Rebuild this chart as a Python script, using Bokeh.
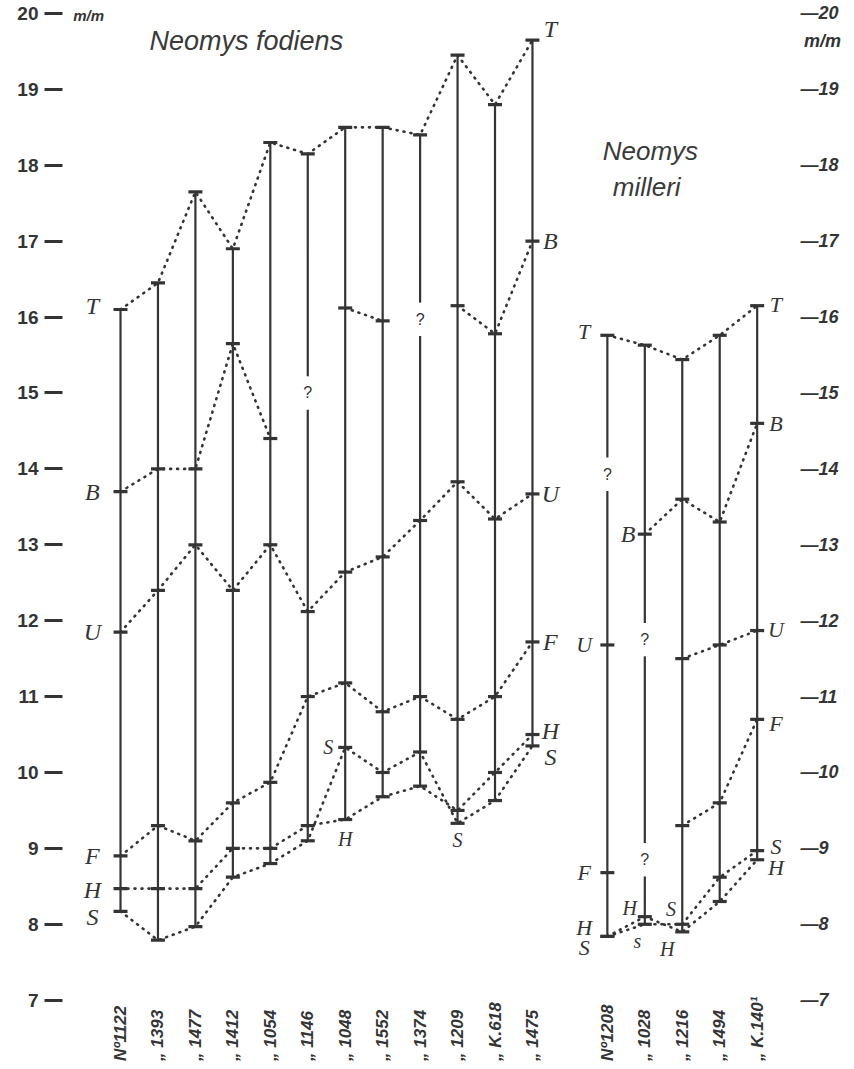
import math
from bokeh.plotting import figure
from bokeh.models import Range1d, LinearAxis, FixedTicker
from bokeh.core.properties import value
from bokeh.embed import file_html
from bokeh.resources import INLINE

nan = float("nan")

# ---------------- data (mm) ----------------
# Neomys fodiens
fod_ids = ["Nº1122", "„ 1393", "„ 1477", "„ 1412", "„ 1054", "„ 1146",
           "„ 1048", "„ 1552", "„ 1374", "„ 1209", "„ K.618", "„ 1475"]
fod_T = [16.1, 16.45, 17.65, 16.9, 18.3, 18.15, 18.5, 18.5, 18.4, 19.45, 18.8, 19.65]
fod_B = [13.7, 14.0, 14.0, 15.65, 14.4, nan, 16.12, 15.95, nan, 16.15, 15.78, 17.0]
fod_U = [11.85, 12.4, 13.0, 12.4, 13.0, 12.12, 12.64, 12.84, 13.32, 13.83, 13.34, 13.67]
fod_F = [8.9, 9.3, 9.1, 9.6, 9.87, 11.0, 11.18, 10.8, 11.0, 10.7, 11.0, 11.72]
fod_H = [8.47, 8.47, 8.47, 9.0, 9.0, 9.3, 9.38, 9.68, 9.82, 9.5, 10.0, 10.5]
fod_S = [8.17, 7.79, 7.97, 8.62, 8.8, 9.1, 10.33, 10.0, 10.27, 9.33, 9.63, 10.35]
fod_q_col = [5, 8]          # columns with an unknown ("?") value
fod_q_val = [15.0, 15.97]

# Neomys milleri
mil_ids = ["Nº1208", "„ 1028", "„ 1216", "„ 1494", "„ K.140¹"]
mil_T = [15.76, 15.63, 15.44, 15.76, 16.15]
mil_B = [nan, 13.14, 13.6, 13.3, 14.6]
mil_U = [11.68, nan, 11.5, 11.68, 11.87]
mil_F = [8.68, nan, 9.3, 9.6, 10.7]
mil_H = [7.84, 8.1, 7.9, 8.3, 8.85]
mil_S = [7.84, 8.0, 8.0, 8.62, 8.97]
mil_q_col = [0, 1, 1]
mil_q_val = [13.93, 11.75, 8.85]

y_ticks = list(range(7, 21))
unit_label = "m/m"

# ---------------- layout ----------------
INK = "#343434"
W, H = 846, 1061
fod_x = list(range(len(fod_ids)))
mil_x = [13 + i for i in range(len(mil_ids))]

p = figure(width=W, height=H, output_backend="svg", toolbar_location=None,
           x_range=Range1d(-1.549, 18.077), y_range=Range1d(6.192, 20.171),
           x_axis_location=None, y_axis_location="left",
           min_border_left=62, min_border_right=49, min_border_top=0, min_border_bottom=0)
p.grid.visible = False
p.outline_line_color = None
p.background_fill_color = "white"
p.border_fill_color = "white"

# left axis: real ticks
lax = p.yaxis[0]
lax.ticker = FixedTicker(ticks=y_ticks)
lax.axis_line_color = None
lax.minor_tick_line_color = None
lax.major_tick_in = 0
lax.major_tick_out = 18
lax.major_tick_line_width = 3
lax.major_tick_line_color = INK
lax.major_label_text_font = "Liberation Sans"
lax.major_label_text_font_style = "bold"
lax.major_label_text_font_size = "19px"
lax.major_label_text_color = INK
lax.major_label_standoff = 6

# right axis: dash drawn in the label, plus the unit under "20"
unit_pos = y_ticks[-1] - 0.36
rax = LinearAxis()
rax.ticker = FixedTicker(ticks=y_ticks + [unit_pos])
overrides = {t: "\u2014" + str(t) for t in y_ticks}
overrides[unit_pos] = "\u2009" + unit_label
rax.major_label_overrides = overrides
rax.axis_line_color = None
rax.minor_tick_line_color = None
rax.major_tick_line_color = None
rax.major_tick_in = 0
rax.major_tick_out = 0
rax.major_label_standoff = 3
rax.major_label_text_font = "Liberation Sans"
rax.major_label_text_font_style = "bold italic"
rax.major_label_text_font_size = "18px"
rax.major_label_text_color = INK
p.add_layout(rax, "right")


def draw_group(xs, T, B, U, F, Hh, S, qcol, qval):
    # vertical bars with gaps at unknown values
    x0, y0, x1, y1 = [], [], [], []
    for i, x in enumerate(xs):
        top = T[i]
        bottom = min(v for v in (S[i], Hh[i]) if not math.isnan(v))
        qs = sorted([qval[k] for k in range(len(qcol)) if qcol[k] == i], reverse=True)
        hi = top
        for q in qs:
            x0.append(x); x1.append(x); y0.append(hi); y1.append(q + 0.22)
            hi = q - 0.22
        x0.append(x); x1.append(x); y0.append(hi); y1.append(bottom)
    p.segment(x0=x0, y0=y0, x1=x1, y1=y1, line_color=INK, line_width=2.2)
    # dotted connecting lines and tick marks
    for series in (T, B, U, F, Hh, S):
        p.line(xs, series, line_color=INK, line_width=2.6, line_dash="1 6", line_cap="round")
        xv = [x for x, v in zip(xs, series) if not math.isnan(v)]
        yv = [v for v in series if not math.isnan(v)]
        p.scatter(xv, yv, marker="dash", size=14, line_width=3.2, line_color=INK)
    # unknown values
    p.text([xs[c] for c in qcol], qval, text=["?"] * len(qcol), text_align="center",
           text_baseline="middle", text_font=value("Liberation Sans"), text_font_size="16px",
           text_color=INK)


draw_group(fod_x, fod_T, fod_B, fod_U, fod_F, fod_H, fod_S, fod_q_col, fod_q_val)
draw_group(mil_x, mil_T, mil_B, mil_U, mil_F, mil_H, mil_S, mil_q_col, mil_q_val)


def letters(xs, ys, txt, size="24px"):
    p.text(xs, ys, text=txt, text_align="center", text_baseline="middle",
           text_font=value("Liberation Serif"), text_font_style="italic",
           text_font_size=size, text_color=INK)


# series letters, Neomys fodiens
f0, fl = fod_x[0], fod_x[-1]
letters([f0 - 0.75] * 6,
        [fod_T[0] + 0.05, fod_B[0], fod_U[0], fod_F[0], fod_H[0] - 0.02, fod_S[0] - 0.08],
        ["T", "B", "U", "F", "H", "S"])
letters([fl + 0.48] * 6,
        [fod_T[-1] + 0.15, fod_B[-1], fod_U[-1], fod_F[-1], fod_H[-1] + 0.05, fod_S[-1] - 0.15],
        ["T", "B", "U", "F", "H", "S"])
letters([fod_x[6] - 0.45, fod_x[6], fod_x[9]],
        [fod_S[6], fod_H[6] - 0.25, fod_S[9] - 0.22], ["S", "H", "S"], size="20px")

# series letters, Neomys milleri
m0, ml = mil_x[0], mil_x[-1]
letters([m0 - 0.62] * 5,
        [mil_T[0] + 0.05, mil_U[0], mil_F[0], mil_H[0] + 0.12, mil_S[0] - 0.14],
        ["T", "U", "F", "H", "S"], size="22px")
letters([mil_x[1] - 0.45], [mil_B[1]], ["B"])
letters([mil_x[1] - 0.4, mil_x[1] - 0.2, mil_x[2] - 0.3, mil_x[2] - 0.4],
        [mil_H[1] + 0.12, mil_S[1] - 0.22, mil_S[2] + 0.2, mil_H[2] - 0.22],
        ["H", "s", "S", "H"], size="20px")
letters([ml + 0.5] * 6,
        [mil_T[-1] + 0.02, mil_B[-1], mil_U[-1] + 0.02, mil_F[-1] - 0.05, mil_S[-1] + 0.05, mil_H[-1] - 0.1],
        ["T", "B", "U", "F", "S", "H"], size="22px")

# specimen labels (rotated)
p.text(fod_x + mil_x, [6.2] * (len(fod_x) + len(mil_x)), text=fod_ids + mil_ids,
       angle=math.pi / 2, text_align="left", text_baseline="middle",
       text_font=value("Liberation Sans"), text_font_style="bold italic",
       text_font_size="17px", text_color=INK)

# titles
p.text([3.36], [19.64], text=["Neomys fodiens"], text_align="center", text_baseline="middle",
       text_font=value("Liberation Sans"), text_font_style="italic", text_font_size="27px",
       text_color="#3a3a3a")
p.text([14.15, 14.05], [18.19, 17.72], text=["Neomys", "milleri"], text_align="center",
       text_baseline="middle", text_font=value("Liberation Sans"), text_font_style="italic",
       text_font_size="26px", text_color="#3a3a3a")

# unit at the left "20"
p.text([-0.85], [19.97], text=[unit_label], text_align="center", text_baseline="middle",
       text_font=value("Liberation Sans"), text_font_style="bold italic", text_font_size="15px",
       text_color=INK)

open("out.html", "w").write(file_html(p, INLINE))
